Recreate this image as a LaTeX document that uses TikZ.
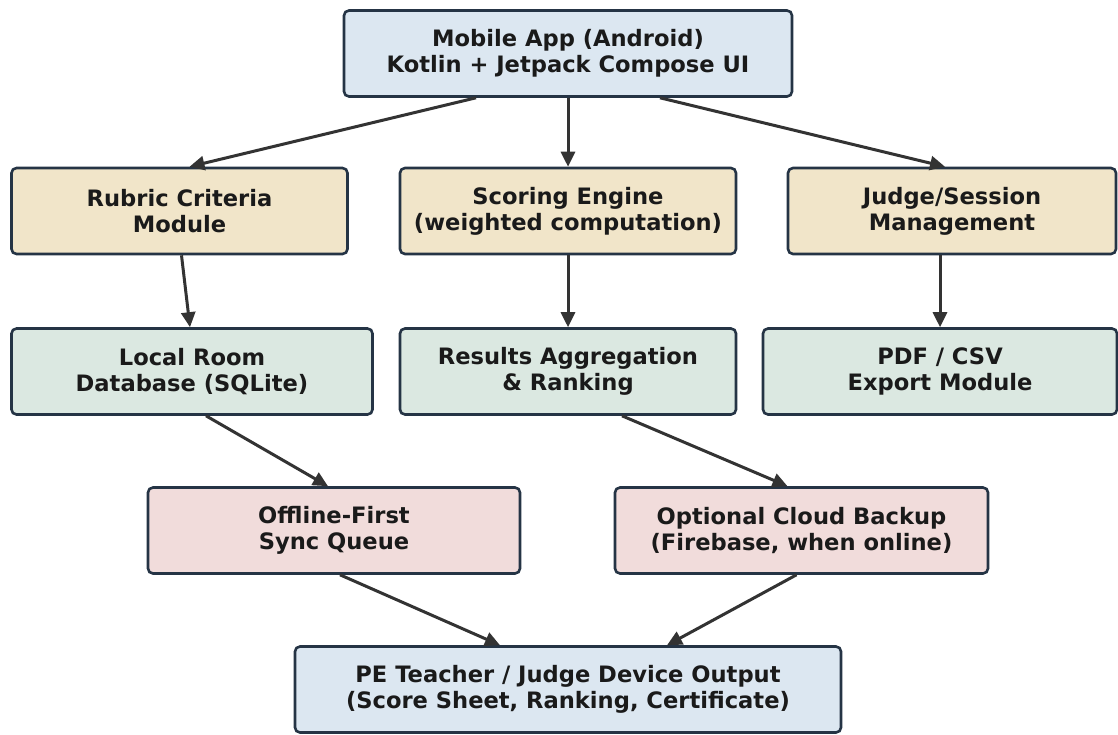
\documentclass[tikz,border=0pt]{standalone}
\usepackage{fontspec}
\setmainfont{DejaVu Sans}
\usetikzlibrary{arrows.meta}
\definecolor{boxline}{HTML}{253445}
\definecolor{arrowc}{HTML}{333333}
\definecolor{fblue}{HTML}{DCE7F1}
\definecolor{ftan}{HTML}{F1E5C9}
\definecolor{fgreen}{HTML}{DBE8E1}
\definecolor{fpink}{HTML}{F1DCDB}
\definecolor{txt}{HTML}{1A1A1A}
\tikzset{
  box/.style={draw=boxline, line width=2.6pt, rounded corners=5pt, align=center,
    minimum height=86pt, inner sep=0pt, text=txt,
    font=\fontsize{22.6}{26}\selectfont\bfseries},
  bluebox/.style={box, fill=fblue},
  tanbox/.style={box, fill=ftan},
  greenbox/.style={box, fill=fgreen},
  pinkbox/.style={box, fill=fpink},
  arr/.style={draw=arrowc, line width=3pt,
    -{Triangle[length=15pt,width=14pt]}, shorten >=0pt}
}
\begin{document}
\begin{tikzpicture}[x=1pt,y=-1pt]
\useasboundingbox (0,0) rectangle (1118,734);
% row 1
\node[bluebox, minimum width=448pt] (app) at (568,53.5) {Mobile App (Android)\\Kotlin + Jetpack Compose UI};
% row 2
\node[tanbox, minimum width=336pt] (rubric) at (179.5,211) {Rubric Criteria\\Module};
\node[tanbox, minimum width=336pt] (scoring) at (568,211) {Scoring Engine\\(weighted computation)};
\node[tanbox, minimum width=328pt] (judge) at (952,211) {Judge/Session\\Management};
% row 3
\node[greenbox, minimum width=361pt] (room) at (192,371.5) {Local Room\\Database (SQLite)};
\node[greenbox, minimum width=336pt] (results) at (568,371.5) {Results Aggregation\\\& Ranking};
\node[greenbox, minimum width=354pt] (export) at (940,371.5) {PDF / CSV\\Export Module};
% row 4
\node[pinkbox, minimum width=372pt] (sync) at (334,530.5) {Offline-First\\Sync Queue};
\node[pinkbox, minimum width=373pt] (cloud) at (801.5,530.5) {Optional Cloud Backup\\(Firebase, when online)};
% row 5
\node[bluebox, minimum width=546pt] (output) at (568,689.5) {PE Teacher / Judge Device Output\\(Score Sheet, Ranking, Certificate)};
% connectors
\draw[arr] ([xshift=-92pt]app.south) -- ([xshift=10pt]rubric.north);
\draw[arr] (app.south) -- (scoring.north);
\draw[arr] ([xshift=92pt]app.south) -- ([xshift=-7pt]judge.north);
\draw[arr] ([xshift=2pt]rubric.south) -- ([xshift=-2pt]room.north);
\draw[arr] (scoring.south) -- (results.north);
\draw[arr] ([xshift=-12pt]judge.south) -- (export.north);
\draw[arr] ([xshift=14pt]room.south) -- ([xshift=-6pt]sync.north);
\draw[arr] ([xshift=54pt]results.south) -- ([xshift=-14pt]cloud.north);
\draw[arr] ([xshift=6pt]sync.south) -- ([xshift=-68pt]output.north);
\draw[arr] ([xshift=-5pt]cloud.south) -- ([xshift=99pt]output.north);
\end{tikzpicture}
\end{document}
